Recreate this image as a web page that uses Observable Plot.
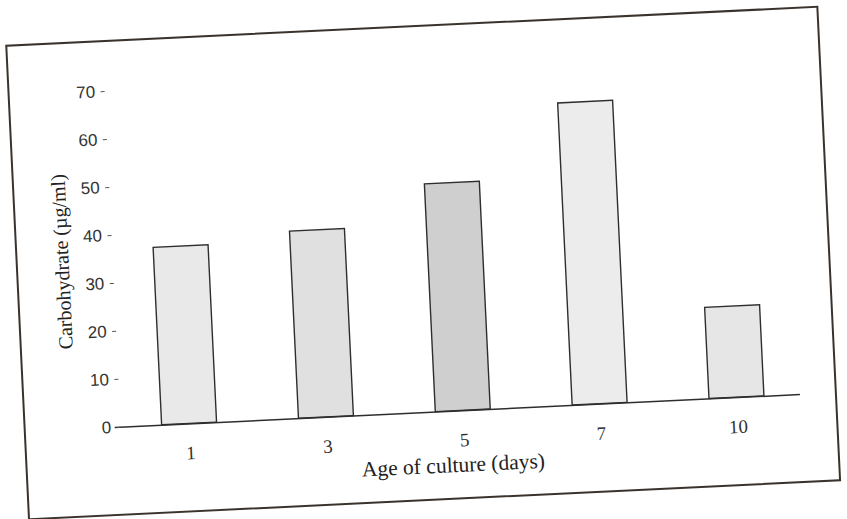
<!DOCTYPE html>
<html>
<head>
<meta charset="utf-8">
<script src="https://cdn.jsdelivr.net/npm/d3@7"></script>
<script src="https://cdn.jsdelivr.net/npm/@observablehq/plot@0.6"></script>
<style>
  html, body { margin: 0; padding: 0; background: #fff; overflow: hidden; }
  #page { position: relative; width: 847px; height: 519px; transform: rotate(-2.75deg); transform-origin: 423.5px 259.5px; }
  #frame { position: absolute; left: 16px; top: 25px; width: 810px; height: 472px; border: 2.5px solid #3a332d; }
  #chart { position: absolute; left: 0; top: 0; }
</style>
</head>
<body>
<div id="page">
  <div id="frame"></div>
  <div id="chart"></div>
</div>
<script>
// Data
const days = ["1", "3", "5", "7", "10"];
const carbohydrate = [37, 39, 47.5, 63, 19];
const yTicks = [0, 10, 20, 30, 40, 50, 60, 70];
const xTitle = "Age of culture (days)";
const yTitle = "Carbohydrate (µg/ml)";
// Bar shading (stipple density approximated by grey tone)
const shades = ["#e9e9e9", "#e0e0e0", "#cfcfcf", "#ececec", "#e6e6e6"];

const rows = days.map((d, i) => ({day: d, value: carbohydrate[i]}));

const serif = "Liberation Serif, DejaVu Serif, serif";
const sans = "Liberation Sans, Arial, sans-serif";

const chart = Plot.plot({
  width: 847,
  height: 519,
  marginLeft: 113,
  marginRight: 54,
  marginTop: 76,
  marginBottom: 107,
  style: {background: "transparent", color: "#333"},
  x: {domain: days, range: [71.4, 838.6], padding: 0.6, label: null},
  y: {domain: [0, 70], label: null},
  color: {domain: days, range: shades},
  marks: [
    Plot.barY(rows, {x: "day", y: "value", fill: "day", stroke: "#2e2e2e", strokeWidth: 1.4}),
    Plot.ruleY([0], {stroke: "#2e2e2e", strokeWidth: 1.5, insetLeft: -6, insetRight: 0}),
    Plot.axisY({ticks: yTicks, tickSize: 4, tickPadding: 6, fontSize: 17, fontFamily: sans, label: null, stroke: "#555"}),
    Plot.axisX({tickSize: 0, tickPadding: 22, fontSize: 19, fontFamily: serif, label: null}),
    Plot.text([yTitle], {frameAnchor: "left", textAnchor: "middle", lineAnchor: "middle", dx: -51, rotate: -90, fontSize: 20, fontFamily: serif, fill: "#222"}),
    Plot.text([xTitle], {frameAnchor: "bottom", textAnchor: "middle", lineAnchor: "middle", dx: -10, dy: 54, fontSize: 21.5, fontFamily: serif, fill: "#222"})
  ]
});
document.getElementById("chart").appendChild(chart);
</script>
</body>
</html>
